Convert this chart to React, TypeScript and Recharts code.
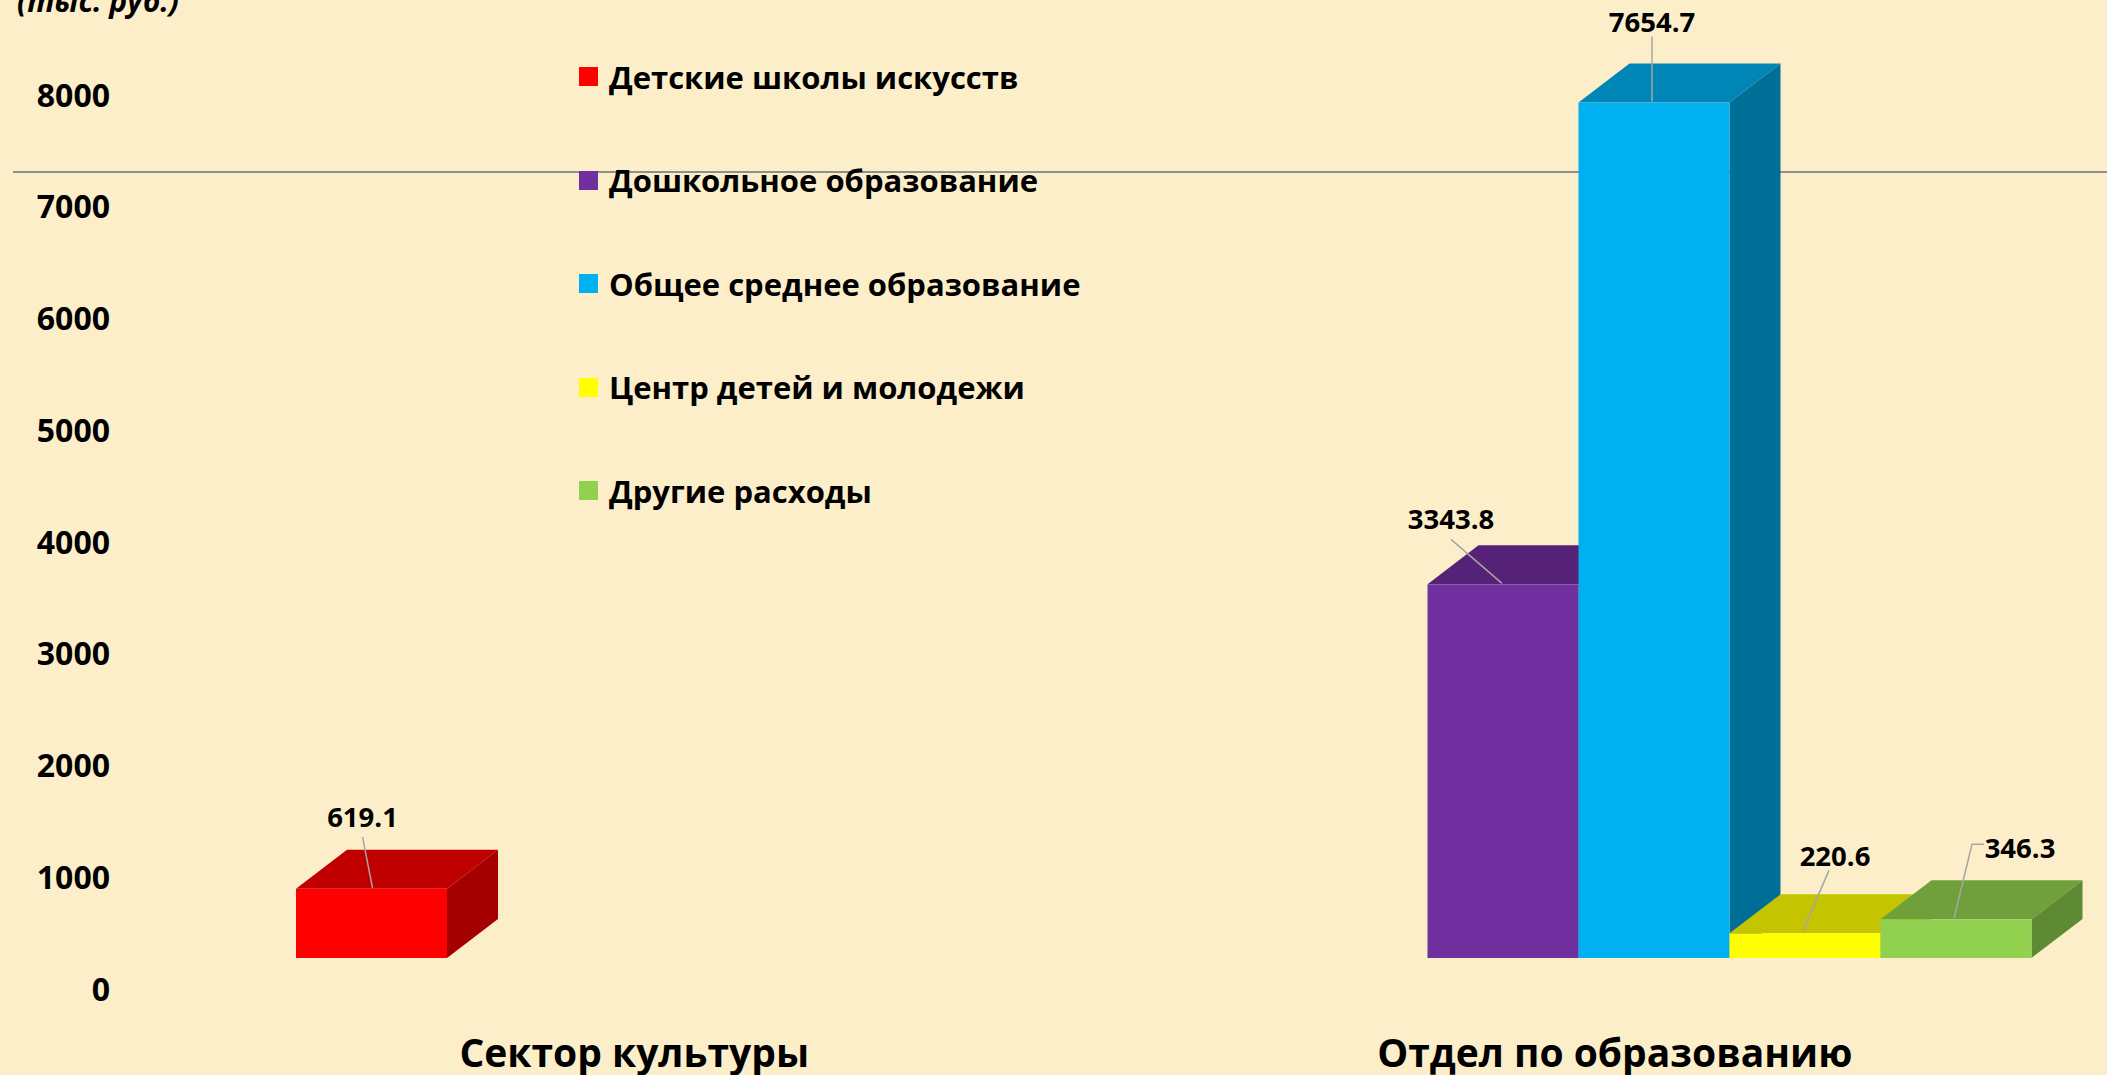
import React from 'react';
import { BarChart, Bar, XAxis, YAxis, Legend, LabelList } from 'recharts';

// values in тыс. руб.
const categories = ['Сектор культуры', 'Отдел по образованию'];
const artSchools = [619.1, null];
const preschool = [null, 3343.8];
const generalEdu = [null, 7654.7];
const youthCentre = [null, 220.6];
const otherCosts = [null, 346.3];
const yTicks = [0, 1000, 2000, 3000, 4000, 5000, 6000, 7000, 8000];

const FONT = '"Open Sans", "Noto Sans", sans-serif';
const BG = '#FDEECA';
// fake 3d depth of the boxes
const DEPTH_X = 51;
const DEPTH_Y = 39;

const series = [
  {
    key: 'art',
    name: 'Детские школы искусств',
    values: artSchools,
    front: '#FF0000',
    top: '#C00000',
    side: '#A40000',
    // label text offset and leader line, relative to top centre of the front face
    text: [-9, -72],
    line: [[-9, -52], [1, -1]],
  },
  {
    key: 'pre',
    name: 'Дошкольное образование',
    values: preschool,
    front: '#7030A0',
    top: '#552278',
    side: '#4A1D68',
    text: [-52, -66],
    line: [[-52, -45], [-1, -1]],
  },
  {
    key: 'gen',
    name: 'Общее среднее образование',
    values: generalEdu,
    front: '#00B0F0',
    top: '#0086B6',
    side: '#006F98',
    text: [-2, -81],
    line: [[-2, -66], [-2, -1]],
  },
  {
    key: 'youth',
    name: 'Центр детей и молодежи',
    values: youthCentre,
    front: '#FFFF00',
    top: '#C4C400',
    side: '#A8A800',
    text: [30, -78],
    line: [[24, -63], [-2, -3]],
  },
  {
    key: 'other',
    name: 'Другие расходы',
    values: otherCosts,
    front: '#92D050',
    top: '#70A03C',
    side: '#5E8A33',
    text: [64, -72],
    line: [[28, -75], [16, -75], [-2, -1]],
  },
];

const data = categories.map((category, i) => {
  const row: any = { category };
  series.forEach((s) => {
    row[s.key] = s.values[i];
  });
  return row;
});

function Box3D(props: any) {
  const { x, y, width, height, front, top, side, value } = props;
  if (value == null || !height || height <= 0) return null;
  const dx = DEPTH_X;
  const dy = DEPTH_Y;
  return (
    <g>
      <polygon
        points={`${x},${y} ${x + dx},${y - dy} ${x + width + dx},${y - dy} ${x + width},${y}`}
        fill={top}
      />
      <polygon
        points={`${x + width},${y} ${x + width + dx},${y - dy} ${x + width + dx},${y + height - dy} ${x + width},${y + height}`}
        fill={side}
      />
      <rect x={x} y={y} width={width} height={height} fill={front} />
    </g>
  );
}

function makeLabel(s: any) {
  return (props: any) => {
    const { x, y, width, value } = props;
    if (value == null) return null;
    const cx = x + width / 2;
    const pts = s.line.map((p: number[]) => `${cx + p[0]},${y + p[1]}`).join(' ');
    return (
      <g>
        <polyline points={pts} fill="none" stroke="#A6A6A6" strokeWidth={1.5} />
        <text
          x={cx + s.text[0]}
          y={y + s.text[1]}
          textAnchor="middle"
          dominantBaseline="central"
          fontFamily={FONT}
          fontWeight={700}
          fontSize={27.5}
          fill="#000"
        >
          {value}
        </text>
      </g>
    );
  };
}

function YTick({ x, y, payload }: any) {
  return (
    <text
      x={x}
      y={y + 30}
      textAnchor="end"
      dominantBaseline="central"
      fontFamily={FONT}
      fontWeight={700}
      fontSize={32}
      fill="#000"
    >
      {payload.value}
    </text>
  );
}

function XTick({ x, y, payload }: any) {
  return (
    <text
      x={x - 40}
      y={y + 85}
      textAnchor="middle"
      dominantBaseline="central"
      fontFamily={FONT}
      fontWeight={700}
      fontSize={39}
      fill="#000"
    >
      {payload.value}
    </text>
  );
}

function LegendList() {
  return (
    <div style={{ fontFamily: FONT }}>
      {series.map((s) => (
        <div key={s.key} style={{ height: 103.5, display: 'flex', alignItems: 'center' }}>
          <span style={{ width: 19, height: 19, background: s.front, marginRight: 11, flex: 'none' }} />
          <span style={{ fontSize: 31, fontWeight: 700, color: '#000', whiteSpace: 'nowrap' }}>{s.name}</span>
        </div>
      ))}
    </div>
  );
}

export default function App() {
  return (
    <div
      style={{
        position: 'fixed',
        left: 0,
        top: 0,
        width: 2107,
        height: 1075,
        overflow: 'hidden',
        background: BG,
      }}
    >
      <div style={{ position: 'absolute', left: 13, right: 0, top: 171, height: 2, background: '#8F8F8F' }} />
      <div
        style={{
          position: 'absolute',
          left: 17,
          top: -14,
          fontFamily: FONT,
          fontStyle: 'italic',
          fontWeight: 700,
          fontSize: 30,
          lineHeight: '30px',
          whiteSpace: 'nowrap',
        }}
      >
        (тыс. руб.)
      </div>
      <div style={{ position: 'absolute', left: 0, top: 0 }}>
        <BarChart
          width={2160}
          height={1075}
          data={data}
          margin={{ top: 64, right: 15, bottom: 0, left: 0 }}
          barGap={0}
          barCategoryGap={112}
        >
          <XAxis
            dataKey="category"
            axisLine={false}
            tickLine={false}
            height={117}
            tick={<XTick />}
            interval={0}
          />
          <YAxis
            domain={[0, 8000]}
            ticks={yTicks}
            width={184}
            axisLine={false}
            tickLine={false}
            tickMargin={68}
            tick={<YTick />}
            interval={0}
          />
          <Legend
            layout="vertical"
            align="center"
            verticalAlign="middle"
            content={<LegendList />}
            wrapperStyle={{ left: 579, top: 25, width: 650 }}
          />
          {series.map((s) => (
            <Bar
              key={s.key}
              dataKey={s.key}
              name={s.name}
              fill={s.front}
              isAnimationActive={false}
              shape={(p: any) => <Box3D {...p} front={s.front} top={s.top} side={s.side} />}
            >
              <LabelList dataKey={s.key} content={makeLabel(s)} />
            </Bar>
          ))}
        </BarChart>
      </div>
    </div>
  );
}
